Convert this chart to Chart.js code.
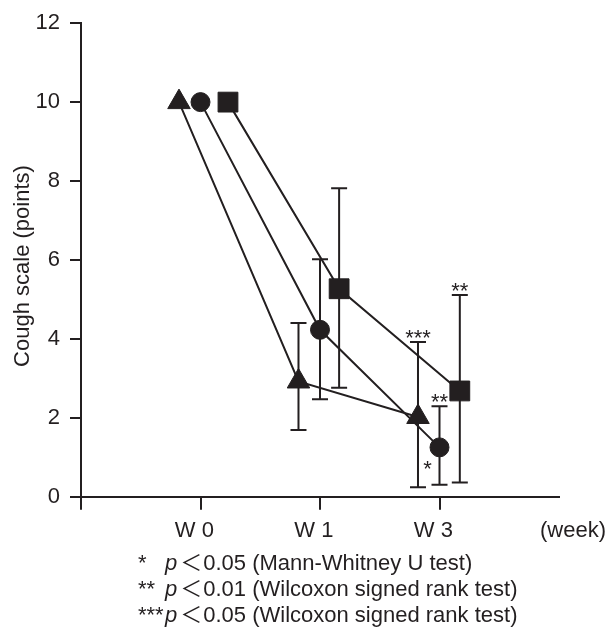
<!DOCTYPE html>
<html>
<head>
<meta charset="utf-8">
<script src="https://cdn.jsdelivr.net/npm/chart.js@4.4.0/dist/chart.umd.min.js"></script>
<style>
  html, body { margin: 0; padding: 0; background: #fff; }
  #wrap { width: 608px; height: 627px; }
</style>
</head>
<body>
<div id="wrap"><canvas id="chart" width="608" height="627"></canvas></div>
<script>
// cough scale values

const weeks = ["W 0", "W 1", "W 3"];
const weekPos = [1, 2, 3];
const yTicks = [0, 2, 4, 6, 8, 10, 12];

const triangleMean = [10, 2.92, 2.02];
const triangleLow = [null, 1.69, 0.24];
const triangleHigh = [null, 4.40, 3.92];
const triangleShift = [-0.18, -0.18, -0.18];

const circleMean = [10, 4.23, 1.25];
const circleLow = [null, 2.47, 0.30];
const circleHigh = [null, 6.02, 2.29];
const circleShift = [0, 0, 0];

const squareMean = [10, 5.27, 2.68];
const squareLow = [null, 2.76, 0.36];
const squareHigh = [null, 7.82, 5.11];
const squareShift = [0.23, 0.16, 0.17];

// significance marks: dataset index, point index, text
const marks = [
    { ds: 0, i: 2, text: "***", at: "high" },
    { ds: 1, i: 2, text: "**", at: "high" },
    { ds: 2, i: 2, text: "**", at: "high" },
    { ds: 1, i: 2, text: "*", at: "low" }
];

const footnotes = [
    ["*", "0.05 (Mann-Whitney U test)"],
    ["**", "0.01 (Wilcoxon signed rank test)"],
    ["***", "0.05 (Wilcoxon signed rank test)"]
];

const INK = "#231f20";
const FONT = "'Liberation Sans', Arial, 'Noto Sans CJK JP', sans-serif";

const errs = [
    { low: triangleLow, high: triangleHigh },
    { low: circleLow, high: circleHigh },
    { low: squareLow, high: squareHigh }
];

const series = (mean, shift, style, r) => ({
    data: mean.map((v, i) => ({ x: weekPos[i] + shift[i], y: v })),
    showLine: true,
    fill: false,
    tension: 0,
    borderColor: INK,
    borderWidth: 2,
    pointStyle: style,
    pointRadius: r,
    pointBackgroundColor: INK,
    pointBorderColor: INK,
    pointBorderWidth: 1
});

const errorBars = {
    id: "errorBars",
    beforeDatasetsDraw(chart) {
        const ctx = chart.ctx;
        const y = chart.scales.y;
        ctx.save();
        ctx.strokeStyle = INK;
        ctx.lineWidth = 2;
        errs.forEach((e, d) => {
            chart.getDatasetMeta(d).data.forEach((pt, i) => {
                if (e.low[i] == null) return;
                const top = y.getPixelForValue(e.high[i]);
                const bot = y.getPixelForValue(e.low[i]);
                ctx.beginPath();
                ctx.moveTo(pt.x, top); ctx.lineTo(pt.x, bot);
                ctx.moveTo(pt.x - 8, top); ctx.lineTo(pt.x + 8, top);
                ctx.moveTo(pt.x - 8, bot); ctx.lineTo(pt.x + 8, bot);
                ctx.stroke();
            });
        });
        ctx.restore();
    }
};

const texts = {
    id: "texts",
    afterDraw(chart) {
        const ctx = chart.ctx;
        const y = chart.scales.y;
        ctx.save();
        ctx.fillStyle = INK;

        // y title
        ctx.font = `22px ${FONT}`;
        ctx.save();
        ctx.translate(23, 266);
        ctx.rotate(-Math.PI / 2);
        ctx.textAlign = "center";
        ctx.textBaseline = "middle";
        ctx.fillText("Cough scale (points)", 0, 0);
        ctx.restore();

        // unit at end of x axis
        ctx.textAlign = "center";
        ctx.textBaseline = "middle";
        ctx.fillText("(week)", 573, 531);

        // asterisks on the plot
        ctx.textBaseline = "alphabetic";
        marks.forEach(m => {
            const pt = chart.getDatasetMeta(m.ds).data[m.i];
            if (m.at === "high") {
                ctx.fillText(m.text, pt.x, y.getPixelForValue(errs[m.ds].high[m.i]) + 3);
            } else {
                ctx.fillText(m.text, pt.x - 12, pt.y + 29);
            }
        });

        // footnotes
        ctx.textAlign = "left";
        footnotes.forEach(([star, rest], k) => {
            const base = 570 + k * 26;
            ctx.font = `22px ${FONT}`;
            ctx.fillText(star, 138, base);
            ctx.font = `italic 22px ${FONT}`;
            ctx.fillText("p", 165, base);
            let x = 165 + ctx.measureText("p").width + 3;
            ctx.font = `22px ${FONT}`;
            ctx.fillText("＜", x, base);
            x += ctx.measureText("＜").width + 1;
            ctx.fillText(rest, x, base);
        });
        ctx.restore();
    }
};

new Chart(document.getElementById("chart"), {
    type: "scatter",
    data: {
        datasets: [
            series(triangleMean, triangleShift, "triangle", 13),
            series(circleMean, circleShift, "circle", 9.5),
            series(squareMean, squareShift, "rect", 14)
        ]
    },
    options: {
        responsive: false,
        animation: false,
        events: [],
        layout: { padding: { top: 21.7, right: 49, left: 0, bottom: 0 } },
        plugins: { legend: { display: false }, tooltip: { enabled: false } },
        scales: {
            x: {
                type: "linear",
                min: 0,
                max: 4,
                afterBuildTicks: s => { s.ticks = [0, 1, 2, 3].map(v => ({ value: v })); },
                afterFit: s => { s.height = 627 - 496.7; },
                grid: { drawOnChartArea: false, tickLength: 13, color: INK, lineWidth: 2 },
                border: { color: INK, width: 2 },
                ticks: {
                    padding: 8,
                    maxRotation: 0,
                    autoSkip: false,
                    color: INK,
                    font: { size: 22, family: FONT },
                    callback: v => {
                        const k = weekPos.indexOf(v);
                        return k < 0 ? "" : weeks[k] + "  ";
                    }
                }
            },
            y: {
                min: 0,
                max: 12,
                afterBuildTicks: s => { s.ticks = yTicks.map(v => ({ value: v })); },
                afterFit: s => { s.width = 81; },
                grid: { drawOnChartArea: false, tickLength: 11, color: INK, lineWidth: 2 },
                border: { color: INK, width: 2 },
                ticks: { padding: 10, color: INK, font: { size: 22, family: FONT } }
            }
        }
    },
    plugins: [errorBars, texts]
});
</script>
</body>
</html>
